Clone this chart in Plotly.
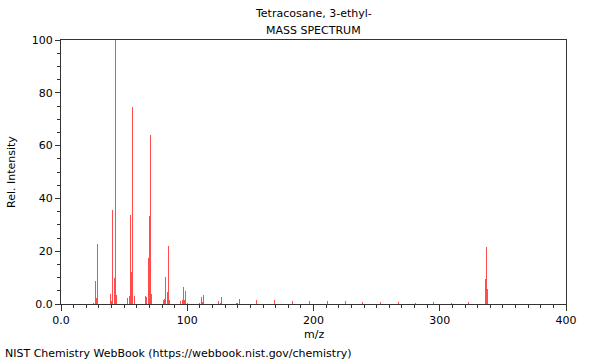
import plotly.graph_objects as go

mz = [26, 27, 28, 29, 39, 40, 41, 42, 43, 44,
      53, 54, 55, 56, 57, 58, 67, 68, 69, 70, 71, 72,
      81, 82, 83, 84, 85, 86, 95, 96, 97, 98, 99, 100,
      110, 111, 112, 113, 125, 126, 127, 139, 140, 141,
      155, 169, 183, 197, 211, 225, 239, 253, 267, 281,
      295, 309, 323, 336, 337, 338]
intensity = [0.5, 8.7, 2.2, 22.7, 3.8, 1.0, 35.6, 9.7, 100.0, 3.5,
             2.1, 3.0, 33.7, 12.2, 74.5, 3.0, 3.0, 2.5, 17.4, 33.3, 64.0, 3.7,
             1.5, 2.0, 10.3, 4.4, 22.0, 1.5, 1.2, 1.5, 6.4, 1.5, 4.8, 0.5,
             0.5, 2.7, 0.9, 3.3, 1.0, 0.5, 2.5, 0.4, 0.4, 1.8,
             1.5, 1.5, 1.1, 1.1, 1.0, 1.0, 0.9, 0.8, 0.7, 0.4,
             0.7, 0.3, 0.7, 9.3, 21.7, 5.6]

x_tickvals = [0, 100, 200, 300, 400]
x_ticktext = ["0.0", "100", "200", "300", "400"]
y_tickvals = [0, 20, 40, 60, 80, 100]
y_ticktext = ["0.0", "20", "40", "60", "80", "100"]

title1 = "Tetracosane, 3-ethyl-"
title2 = "MASS SPECTRUM"
footer = "NIST Chemistry WebBook (https://webbook.nist.gov/chemistry)"

FONT = "DejaVu Sans"
AX = "#333333"

fig = go.Figure()
fig.add_trace(go.Bar(
    x=mz, y=intensity, width=0.8,
    marker=dict(color="rgba(255,0,0,0.7)", line=dict(width=0)),
    hoverinfo="x+y",
))

fig.update_layout(
    width=600, height=360,
    margin=dict(l=61, r=34, t=40, b=56),
    paper_bgcolor="white", plot_bgcolor="white",
    showlegend=False,
    font=dict(family=FONT, size=11, color="black"),
    bargap=0,
)
fig.update_xaxes(
    range=[0, 400], showgrid=False, zeroline=False,
    showline=True, linecolor=AX, linewidth=1, mirror=True,
    tickmode="array", tickvals=x_tickvals, ticktext=x_ticktext,
    ticks="outside", ticklen=6, tickcolor=AX,
    minor=dict(tickmode="linear", tick0=0, dtick=10, ticks="outside", ticklen=3, tickcolor=AX, showgrid=False),
    tickfont=dict(size=11),
)
fig.update_yaxes(
    range=[0, 100], showgrid=False, zeroline=False,
    showline=True, linecolor=AX, linewidth=1, mirror=True,
    tickmode="array", tickvals=y_tickvals, ticktext=y_ticktext,
    ticks="outside", ticklen=5, tickcolor=AX,
    minor=dict(tickmode="linear", tick0=0, dtick=5, ticks="outside", ticklen=3, tickcolor=AX, showgrid=False),
    tickfont=dict(size=11),
)

ann = dict(showarrow=False, font=dict(family=FONT, size=11, color="black"))
fig.add_annotation(text=title1, xref="paper", yref="paper", x=0.5, y=1,
                   xanchor="center", yanchor="middle", yshift=27, **ann)
fig.add_annotation(text=title2, xref="paper", yref="paper", x=0.5, y=1,
                   xanchor="center", yanchor="middle", yshift=10, **ann)
fig.add_annotation(text="m/z", xref="paper", yref="paper", x=0.5, y=0,
                   xanchor="center", yanchor="middle", yshift=-30, **ann)
fig.add_annotation(text="Rel. Intensity", xref="paper", yref="paper", x=0, y=0.5,
                   xanchor="center", yanchor="middle", xshift=-50, textangle=-90, **ann)
fig.add_annotation(text=footer, xref="paper", yref="paper", x=0, y=0,
                   xanchor="left", yanchor="middle", xshift=-58, yshift=-49, **ann)

fig.write_html("out.html",
               config={"displayModeBar": False},
               post_script="document.body.style.margin='0';document.body.style.overflow='hidden';")
